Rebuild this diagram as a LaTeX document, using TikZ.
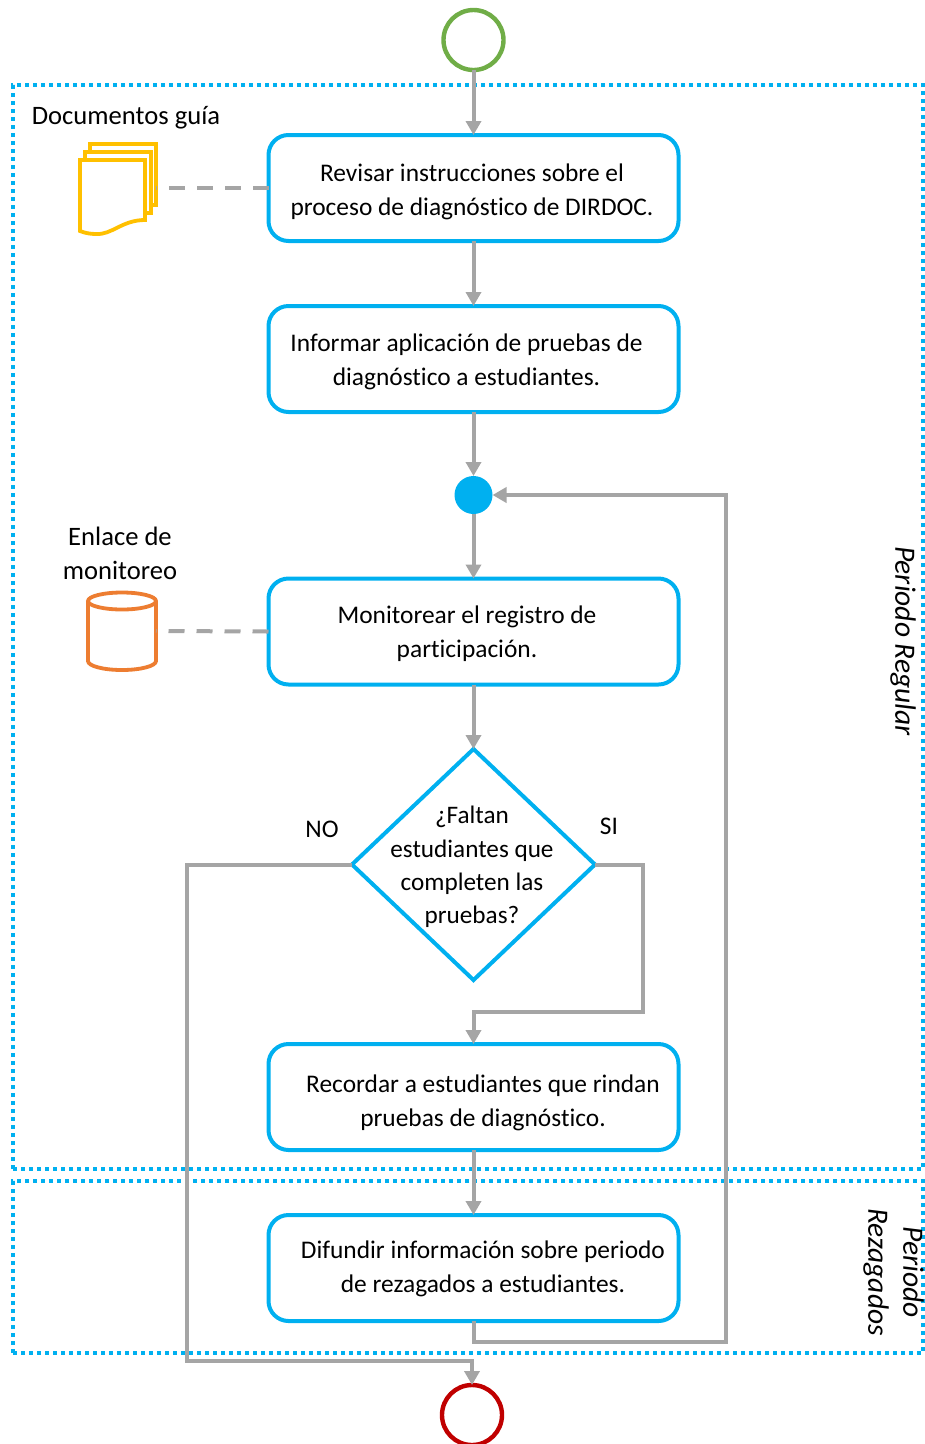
\documentclass[tikz,border=0pt]{standalone}
\usepackage{fontspec}
\setmainfont[Ligatures=NoCommon]{Carlito}
\usetikzlibrary{arrows.meta,shapes.geometric}
\definecolor{bl}{HTML}{00B0F0}
\definecolor{gr}{HTML}{A5A5A5}
\definecolor{yl}{HTML}{FFC000}
\definecolor{orng}{HTML}{ED7D31}
\definecolor{grn}{HTML}{70AD47}
\definecolor{rd}{HTML}{C00000}
\tikzset{
  frameline/.style={draw=bl,line width=3.6pt,dash pattern=on 4pt off 4pt},
  box/.style={draw=bl,line width=4pt,rounded corners=20pt,minimum width=410pt,minimum height=106pt,outer sep=0pt,fill=white},
  txt/.style={font=\fontsize{25.4}{34}\selectfont,align=center,inner sep=0pt,text=black},
  lab/.style={font=\fontsize{26.6}{34}\selectfont,align=center,inner sep=0pt,text=black},
  dectxt/.style={font=\fontsize{25.2}{33.2}\selectfont,align=center,inner sep=0pt,text=black},
  side/.style={font=\fontsize{29.5}{35}\selectfont\itshape,align=center,inner sep=0pt,rotate=-90},
  conn/.style={draw=gr,line width=4pt,-{Triangle[width=15pt,length=14pt]}},
  dashconn/.style={draw=gr,line width=4pt,dash pattern=on 16pt off 12pt},
  icon/.style={line width=3.8pt,fill=white,line join=miter},
}
\begin{document}
\begin{tikzpicture}[x=1pt,y=-1pt]
\useasboundingbox (0,0) rectangle (925,1444);
% frames
\node[frameline,minimum width=910pt,minimum height=1084pt,outer sep=0pt,anchor=north west] (fr1) at (13,85) {};
\node[frameline,minimum width=910pt,minimum height=172pt,outer sep=0pt,anchor=north west] (fr2) at (13,1181) {};
% flow shapes
\node[circle,draw=grn,line width=4.4pt,minimum size=60pt,outer sep=0pt,inner sep=0pt] (start) at (473.5,40) {};
\node[box] (b1) at (473.5,188) {};
\node[box] (b2) at (473.5,359) {};
\node[circle,fill=bl,minimum size=38pt,inner sep=0pt,outer sep=0pt] (dot) at (473.5,495) {};
\node[box] (b3) at (473.5,631.5) {};
\node[diamond,draw=bl,line width=4pt,minimum width=243pt,minimum height=231pt,inner sep=0pt,outer sep=0pt,aspect=1.05] (dec) at (473.5,864.5) {};
\node[box] (b4) at (473.5,1097) {};
\node[box] (b5) at (473.5,1268) {};
\node[circle,draw=rd,line width=4.4pt,minimum size=60pt,outer sep=0pt,inner sep=0pt] (stop) at (472,1415) {};
% texts
\node[txt] (t1) at (472,192) {Revisar instrucciones sobre el\\proceso de diagnóstico de DIRDOC.};
\node[txt] (t2) at (466.5,362) {Informar aplicación de pruebas de\\diagnóstico a estudiantes.};
\node[txt] (t3) at (467,634) {Monitorear el registro de\\participación.};
\node[dectxt] (t4) at (472,867) {¿Faltan\\estudiantes que\\completen las\\pruebas?};
\node[txt] (t5) at (483,1102.5) {Recordar a estudiantes que rindan\\pruebas de diagnóstico.};
\node[txt] (t6) at (483,1269) {Difundir información sobre periodo\\de rezagados a estudiantes.};
\node[txt] (no) at (322,829) {NO};
\node[txt] (si) at (609,826) {SI};
\node[lab] (lab1) at (126,118) {Documentos guía};
\node[lab] (lab2) at (120,553) {Enlace de\\monitoreo};
\node[side] (pr) at (903,641) {Periodo Regular};
\node[side] (prz) at (893.5,1272) {Periodo\\Rezagados};
% icons
\coordinate (docs) at (156,188);
\coordinate (cyl) at (156,631);
\draw[icon,draw=yl] (90,144) -- (156,144) -- (156,205) -- (90,205) -- cycle;
\draw[icon,draw=yl] (85,152) -- (151,152) -- (151,213) -- (85,213) -- cycle;
\draw[icon,draw=yl] (80,160) -- (145,160) -- (145,220)
  .. controls (122,220) and (112,235) .. (96,234)
  .. controls (90,234) and (85,233) .. (80,231) -- cycle;
\draw[icon,draw=orng] (88,601) -- (88,661) arc[start angle=180,end angle=360,x radius=34pt,y radius=9pt] -- (156,601)
  arc[start angle=0,end angle=360,x radius=34pt,y radius=8.5pt];
% connectors
\coordinate (si1) at (643,864.5);
\coordinate (si2) at (643,1012);
\coordinate (si3) at (473.5,1012);
\coordinate (no1) at (187,864.5);
\coordinate (no2) at (187,1361);
\coordinate (no3) at (472,1361);
\coordinate (lp1) at (473.5,1342);
\coordinate (lp2) at (726,1342);
\coordinate (lp3) at (726,495);
\draw[conn] (start) -- (b1);
\draw[conn] (b1) -- (b2);
\draw[conn] (b2) -- (dot);
\draw[conn] (dot) -- (b3);
\draw[conn] (b3) -- (dec);
\draw[conn] (dec.east) -- (si1) -- (si2) -- (si3) -- (b4.north-|si3);
\draw[conn] (b4) -- (b5);
\draw[conn] (dec.west) -- (no1) -- (no2) -- (no3) -- (stop.north);
\draw[conn] (b5.south-|lp1) -- (lp1) -- (lp2) -- (lp3) -- (dot.east);
\draw[dashconn] (b1.west) -- (docs);
\draw[dashconn] (b3.west) -- (cyl);
\end{tikzpicture}
\end{document}
